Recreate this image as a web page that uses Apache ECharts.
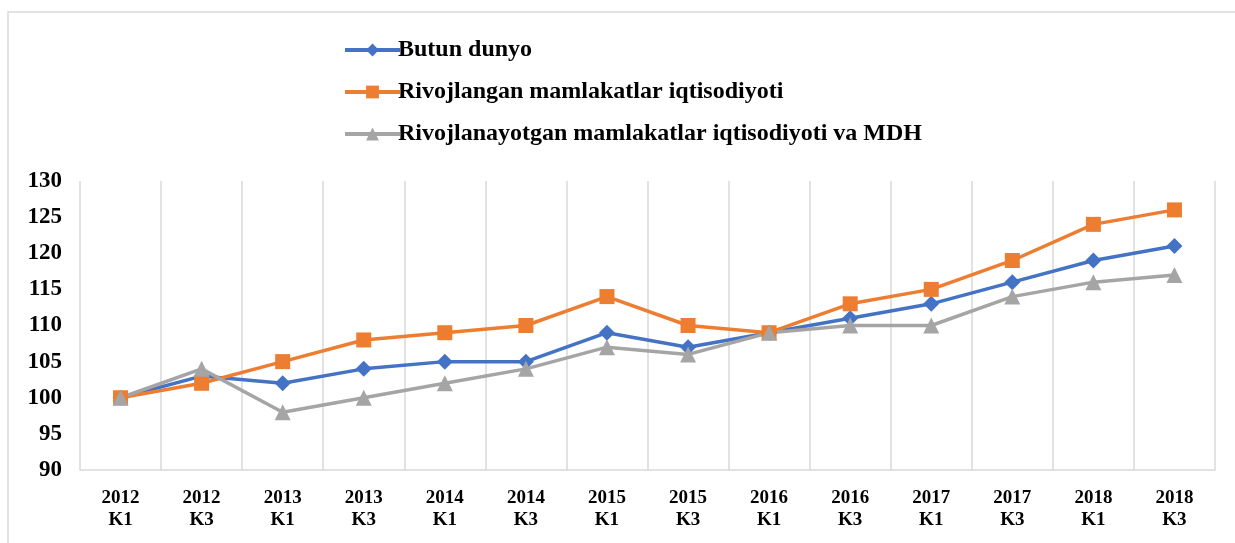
<!DOCTYPE html>
<html>
<head>
<meta charset="utf-8">
<script src="https://cdn.jsdelivr.net/npm/echarts@6/dist/echarts.min.js"></script>
<style>
  html, body { margin: 0; padding: 0; background: #fff; }
  #chart { width: 1235px; height: 543px; }
</style>
</head>
<body>
<div id="chart"></div>
<script>
const categories = ['2012\nK1', '2012\nK3', '2013\nK1', '2013\nK3', '2014\nK1', '2014\nK3', '2015\nK1',
  '2015\nK3', '2016\nK1', '2016\nK3', '2017\nK1', '2017\nK3', '2018\nK1', '2018\nK3'];
const butunDunyo = [100, 103, 102, 104, 105, 105, 109, 107, 109, 111, 113, 116, 119, 121];
const rivojlangan = [100, 102, 105, 108, 109, 110, 114, 110, 109, 113, 115, 119, 124, 126];
const rivojlanayotgan = [100, 104, 98, 100, 102, 104, 107, 106, 109, 110, 110, 114, 116, 117];

const font = 'Liberation Serif';

const chart = echarts.init(document.getElementById('chart'));

function lineSeries(name, data, color, symbol, size) {
  return {
    name: name,
    type: 'line',
    data: data,
    symbol: symbol,
    symbolSize: size,
    lineStyle: { color: color, width: 3.5 },
    itemStyle: { color: color },
    emphasis: { disabled: true }
  };
}

const option = {
  animation: false,
  graphic: [{
    type: 'rect',
    shape: { x: 8, y: 12, width: 1240, height: 560 },
    style: { fill: 'none', stroke: '#d9d9d9', lineWidth: 1.5 },
    silent: true
  }],
  legend: {
    orient: 'vertical',
    left: 338,
    top: 33,
    itemWidth: 55,
    itemHeight: 16,
    itemGap: 18,
    lineStyle: { width: 4 },
    textStyle: { fontFamily: font, fontWeight: 'bold', fontSize: 24, color: '#000', padding: [0, 0, 0, -7] }
  },
  grid: { left: 80, right: 20, top: 181, bottom: 73 },
  xAxis: {
    type: 'category',
    data: categories,
    axisLine: { lineStyle: { color: '#d9d9d9', width: 1.5 } },
    axisTick: { show: false },
    splitLine: { show: true, lineStyle: { color: '#d9d9d9', width: 1.5 } },
    axisLabel: {
      interval: 0,
      margin: 17,
      fontFamily: font,
      fontWeight: 'bold',
      fontSize: 19,
      lineHeight: 22,
      color: '#000'
    }
  },
  yAxis: {
    type: 'value',
    min: 90,
    max: 130,
    interval: 5,
    axisLine: { show: false },
    axisTick: { show: false },
    splitLine: { show: false },
    axisLabel: { margin: 18, fontFamily: font, fontWeight: 'bold', fontSize: 23, color: '#000' }
  },
  series: [
    lineSeries('Butun dunyo', butunDunyo, '#4472c4', 'diamond', 16),
    lineSeries('Rivojlangan mamlakatlar iqtisodiyoti', rivojlangan, '#ed7d31', 'rect', 15),
    lineSeries('Rivojlanayotgan mamlakatlar iqtisodiyoti va MDH', rivojlanayotgan, '#a5a5a5', 'triangle', 16)
  ]
};

chart.setOption(option);
</script>
</body>
</html>
